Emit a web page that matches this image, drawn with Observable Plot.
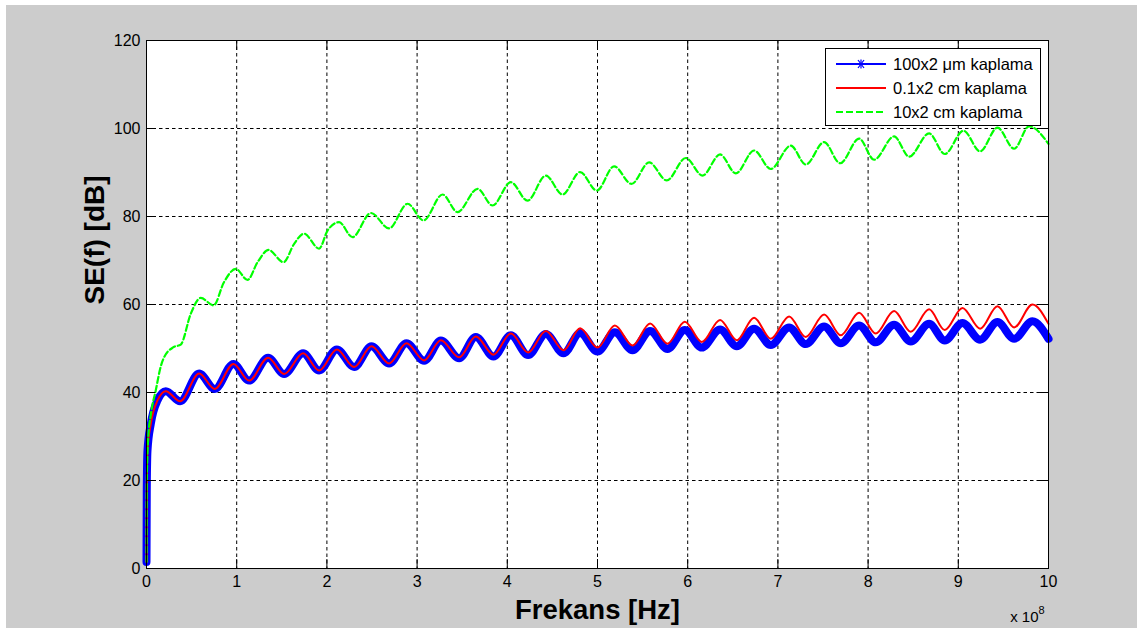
<!DOCTYPE html>
<html><head><meta charset="utf-8">
<script src="https://cdn.jsdelivr.net/npm/d3@7"></script>
<script src="https://cdn.jsdelivr.net/npm/@observablehq/plot@0.6"></script>
<style>
body{margin:0;background:#fff;}
#wrap{position:relative;width:1143px;height:628px;overflow:hidden;}
#bg{position:absolute;left:6px;top:5px;right:6px;bottom:0;background:#cccccc;}
#chart{position:absolute;left:0;top:0;}
#legend{position:absolute;left:825px;top:48px;width:214px;height:76px;background:#fff;border:1px solid #000;font-family:"Liberation Sans",Arial,sans-serif;font-size:16.5px;color:#000;}
#legend .row{position:absolute;left:0;height:20px;display:flex;align-items:center;}
#legend svg{margin-left:10px;margin-right:7px;}
</style></head>
<body>
<div id="wrap"><div id="bg"></div><div id="chart"></div><div id="legend"></div></div>
<script>
// frequency in units of 1e8 Hz
const xTicks = [0,1,2,3,4,5,6,7,8,9,10];
const yTicks = [0,20,40,60,80,100,120];

const seriesNames = ["100x2 μm kaplama", "0.1x2 cm kaplama", "10x2 cm kaplama"];
const seriesColors = ["#0000ff", "#ff0000", "#00ff00"];

const redX = [0,0.003,0.011,0.048,0.122,0.214,0.373,0.583,0.757,0.964,1.137,1.348,1.526,1.736,1.914,2.110,2.302,2.494,2.690,2.882,3.078,3.263,3.466,3.651,3.847,4.039,4.231,4.427,4.623,4.807,5.000,5.192,5.388,5.583,5.776,5.968,6.156,6.359,6.544,6.736,6.921,7.124,7.309,7.512,7.697,7.900,8.085,8.288,8.473,8.676,8.850,9.046,9.242,9.434,9.619,9.822,10.0];
const redY = [1.5,18,26.8,32.9,38.2,40.3,38.0,44.3,40.8,46.5,42.7,47.9,44.2,48.9,45.0,49.8,45.8,50.5,46.6,51.2,47.3,51.9,48.0,52.7,48.6,53.4,49.1,54.0,49.6,54.6,50.2,55.2,50.7,55.7,51.1,56.1,51.5,56.5,51.9,57.0,52.2,57.3,52.6,57.7,53.0,58.1,53.4,58.5,53.8,58.9,54.2,59.2,54.5,59.6,54.8,60.0,55.6];

const blueX = [0,0.003,0.011,0.048,0.122,0.214,0.373,0.583,0.757,0.964,1.137,1.348,1.526,1.736,1.914,2.110,2.302,2.494,2.690,2.882,3.078,3.263,3.466,3.651,3.847,4.039,4.231,4.427,4.623,4.807,5.000,5.192,5.388,5.583,5.776,5.968,6.156,6.359,6.544,6.736,6.921,7.124,7.309,7.512,7.697,7.900,8.085,8.288,8.473,8.676,8.850,9.046,9.242,9.434,9.619,9.822,10.0];
const blueY = [1.5,18,26.8,32.9,38.2,40.3,38.0,44.3,40.8,46.5,42.7,47.9,44.2,48.9,45.0,49.8,45.8,50.5,46.6,51.2,47.2,51.8,47.8,52.6,48.2,53.0,48.5,53.3,48.9,53.5,49.3,53.7,49.6,54.0,49.9,54.2,50.2,54.3,50.5,54.5,50.8,54.8,51.0,55.0,51.2,55.2,51.4,55.4,51.6,55.6,51.8,55.8,52.0,56.0,52.2,56.2,52.2];

const greenX = [0,0.003,0.02,0.048,0.103,0.159,0.195,0.30,0.38,0.491,0.602,0.743,0.860,0.990,1.120,1.231,1.353,1.519,1.637,1.747,1.914,2.007,2.135,2.284,2.487,2.690,2.894,3.071,3.282,3.448,3.670,3.836,4.039,4.224,4.427,4.612,4.807,4.992,5.184,5.377,5.572,5.768,5.979,6.164,6.359,6.533,6.736,6.921,7.143,7.309,7.512,7.690,7.900,8.067,8.288,8.455,8.676,8.850,9.058,9.242,9.434,9.619,9.785,10.0];
const greenY = [1.5,20,30,35,40.5,46,48.0,50.3,50.9,57.9,61.5,59.8,65.1,68.1,65.6,69.6,72.4,69.6,73.8,76.1,72.7,76.8,78.7,75.3,80.8,77.3,82.9,79.1,85.0,81.0,86.3,82.5,87.8,83.6,89.3,85.0,90.1,85.9,91.4,87.4,92.3,88.2,93.3,89.3,94.1,89.8,95.0,90.8,96.1,91.8,96.9,92.1,97.7,92.9,98.2,93.6,98.9,94.2,99.5,94.8,100.2,95.4,100.5,96.5];

const toRows = (xs, ys) => xs.map((x, i) => ({x, y: ys[i]}));
const blue = toRows(blueX, blueY), red = toRows(redX, redY), green = toRows(greenX, greenY);

const font = '"Liberation Sans", Arial, sans-serif';
const chart = Plot.plot({
  width: 1143, height: 628,
  marginLeft: 146, marginRight: 95, marginTop: 40, marginBottom: 60,
  style: {background: "transparent", fontFamily: font, fontSize: "16px", color: "#000", overflow: "visible"},
  x: {domain: [0, 10]},
  y: {domain: [0, 120]},
  marks: [
    Plot.frame({fill: "#fff", stroke: null}),
    Plot.gridX(xTicks, {stroke: "#000", strokeOpacity: 1, strokeDasharray: "3.5,3"}),
    Plot.gridY(yTicks, {stroke: "#000", strokeOpacity: 1, strokeDasharray: "3.5,3"}),
    Plot.line(blue, {x: "x", y: "y", stroke: seriesColors[0], strokeWidth: 8, curve: "monotone-x"}),
    Plot.line(red, {x: "x", y: "y", stroke: seriesColors[1], strokeWidth: 2, curve: "monotone-x"}),
    Plot.line(green, {x: "x", y: "y", stroke: seriesColors[2], strokeWidth: 2.2, strokeDasharray: "6,3", curve: "monotone-x"}),
    Plot.axisX(xTicks, {anchor: "bottom", tickSize: -9, tickPadding: 16, label: null, fontSize: 16}),
    Plot.axisX(xTicks, {anchor: "top", tickSize: -9, tickFormat: () => "", label: null}),
    Plot.axisY(yTicks, {anchor: "left", tickSize: -9, tickPadding: 15, label: null, fontSize: 16}),
    Plot.axisY(yTicks, {anchor: "right", tickSize: -9, tickFormat: () => "", label: null}),
    Plot.frame({stroke: "#000", strokeWidth: 1}),
    Plot.text(["Frekans [Hz]"], {frameAnchor: "bottom", dy: 42, fontSize: 27.5, fontWeight: "bold", lineAnchor: "middle"}),
    Plot.text(["SE(f) [dB]"], {frameAnchor: "left", dx: -51, rotate: -90, fontSize: 28, fontWeight: "bold", lineAnchor: "middle"}),
    Plot.text(["x 10"], {frameAnchor: "bottom-right", dx: -10, dy: 53, textAnchor: "end", lineAnchor: "bottom", fontSize: 15}),
    Plot.text(["8"], {frameAnchor: "bottom-right", dx: -10, dy: 45, textAnchor: "start", lineAnchor: "bottom", fontSize: 11})
  ]
});
document.getElementById("chart").appendChild(chart);

// legend
const legend = document.getElementById("legend");
const dashes = [null, null, "7,3"];
seriesNames.forEach((name, i) => {
  const row = document.createElement("div");
  row.className = "row";
  row.style.top = (5 + i * 24) + "px";
  const marker = i === 0 ? `<g stroke="${seriesColors[0]}" stroke-width="1.2"><line x1="22" y1="6" x2="28" y2="14"/><line x1="28" y1="6" x2="22" y2="14"/><line x1="25" y1="5.5" x2="25" y2="14.5"/><line x1="21" y1="10" x2="29" y2="10"/></g>` : "";
  row.innerHTML = `<svg width="50" height="20"><line x1="0" y1="10" x2="50" y2="10" stroke="${seriesColors[i]}" stroke-width="2" ${dashes[i] ? `stroke-dasharray="${dashes[i]}"` : ""}/>${marker}</svg><span>${name}</span>`;
  legend.appendChild(row);
});
</script>
</body></html>
